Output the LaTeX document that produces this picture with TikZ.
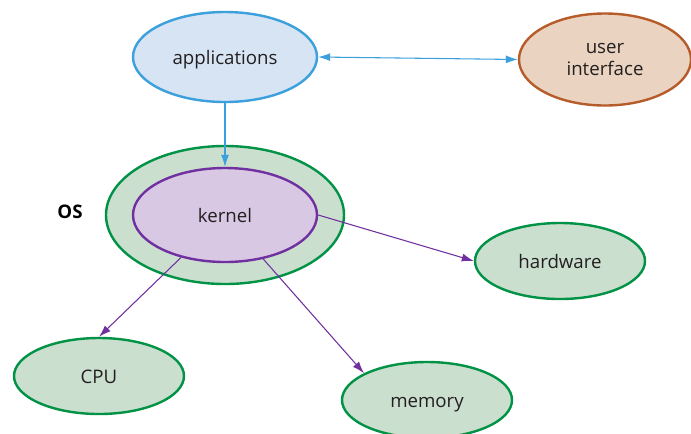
\documentclass[tikz,border=0pt]{standalone}
\usepackage{fontspec}
\setmainfont{Open Sans}
\usetikzlibrary{arrows.meta,shapes.geometric}
\definecolor{appBlue}{RGB}{214,228,244}
\definecolor{appBlueDark}{RGB}{59,160,219}
\definecolor{uiTan}{RGB}{234,211,192}
\definecolor{uiBrown}{RGB}{182,92,42}
\definecolor{osGreen}{RGB}{202,223,206}
\definecolor{osGreenDark}{RGB}{0,146,69}
\definecolor{kernLilac}{RGB}{216,200,228}
\definecolor{kernPurple}{RGB}{112,48,160}
\definecolor{txtgray}{RGB}{35,31,32}

\tikzset{
    blob/.style={ellipse, line width=1.8pt, inner sep=0pt, align=center,
        text=txtgray, font=\fontsize{14}{16}\selectfont},
    oneline/.style={text height=11.8pt, text depth=1pt},
    greenblob/.style={blob, oneline, draw=osGreenDark, fill=osGreen,
        minimum width=127.5pt, minimum height=57pt},
    blueline/.style={appBlueDark, line width=0.8pt},
    purpleline/.style={kernPurple, line width=0.8pt,
        -{Latex[length=9pt,width=6pt]}}
}

\begin{document}
\begin{tikzpicture}[x=0.75pt,y=-0.75pt]
    \useasboundingbox (0,0) rectangle (691,433);

    % OS ring and kernel
    \node[blob, draw=osGreenDark, fill=osGreen,
        minimum width=178.5pt, minimum height=103.5pt] (os) at (225,215) {};
    \node[blob, oneline, draw=kernPurple, fill=kernLilac,
        minimum width=138pt, minimum height=70.5pt] (kernel) at (225,215) {kernel};
    \node[font=\fontsize{14}{16}\selectfont\bfseries, text=black] (oslabel) at (70,212) {OS};

    % top row
    \node[blob, oneline, draw=appBlueDark, fill=appBlue,
        minimum width=138pt, minimum height=67.5pt] (apps) at (225,57) {applications};
    \node[blob, draw=uiBrown, fill=uiTan,
        minimum width=129pt, minimum height=69pt] (ui) at (605,59.5) {user\\interface};

    % devices
    \node[greenblob] (hardware) at (560,261) {hardware};
    \node[greenblob] (cpu) at (99,376) {CPU};
    \node[greenblob] (memory) at (427,400) {memory};

    % connectors
    \draw[blueline, {Latex[length=9pt,width=6pt]}-{Latex[length=9pt,width=6pt]}]
        (apps.east) -- (ui.west);
    \draw[blueline, -{Latex[length=9pt,width=6pt]}] (apps) -- (kernel);
    \draw[purpleline] (kernel.east) -- (hardware.west);
    \draw[purpleline] (kernel.224) -- (cpu.north);
    \draw[purpleline] (kernel.311) -- (memory.157);
\end{tikzpicture}
\end{document}
